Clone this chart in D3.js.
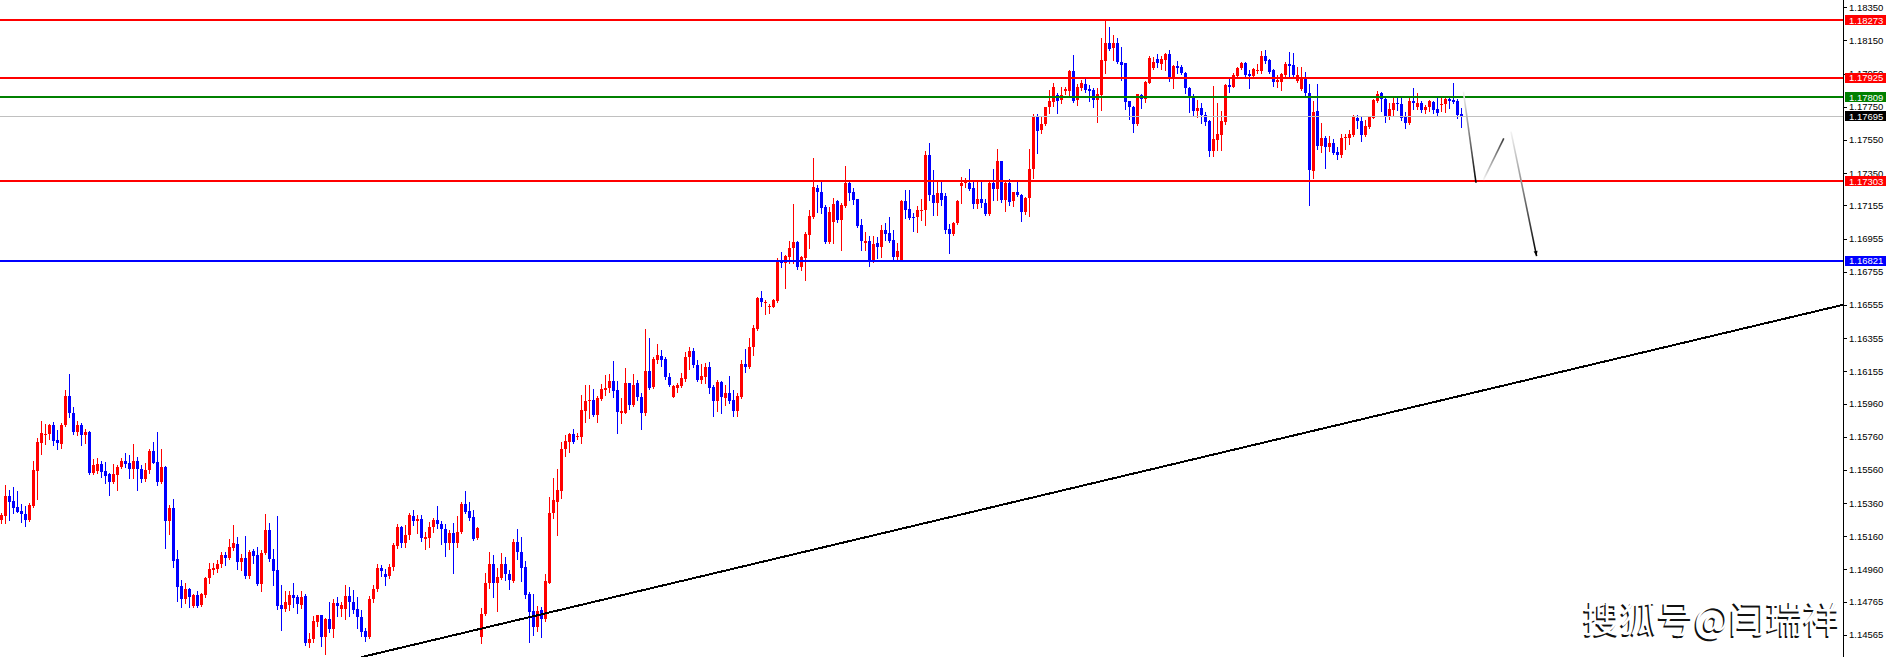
<!DOCTYPE html>
<html><head><meta charset="utf-8">
<script src="https://cdn.jsdelivr.net/npm/d3@7"></script>
<style>html,body{margin:0;padding:0;background:#fff;overflow:hidden}</style>
</head><body>
<svg id="chart" width="1889" height="657"></svg>
<script>
// ---------------- DATA ----------------
const opens = [
1.15259,1.15285,1.15406,1.15373,1.15335,1.15313,1.15295,1.15259,1.15345,1.15556,
1.15725,1.15771,1.15776,1.15832,1.15741,1.15719,1.15832,1.16007,1.15906,1.15790,
1.15832,1.15771,1.15792,1.15544,1.15554,1.15597,1.15554,1.15536,1.15488,1.15530,
1.15577,1.15615,1.15601,1.15564,1.15615,1.15566,1.15508,1.15560,1.15677,1.15607,
1.15490,1.15577,1.15255,1.15331,1.15022,1.14861,1.14785,1.14841,1.14740,1.14807,
1.14746,1.14807,1.14911,1.14957,1.14963,1.14992,1.15048,1.15032,1.15092,1.15114,
1.15008,1.15028,1.14921,1.15072,1.15048,1.14871,1.15062,1.15199,1.15024,1.14957,
1.14746,1.14722,1.14746,1.14807,1.14797,1.14746,1.14801,1.14519,1.14541,1.14646,
1.14684,1.14555,1.14662,1.14602,1.14756,1.14722,1.14722,1.14801,1.14766,1.14722,
1.14676,1.14590,1.14555,1.14783,1.14841,1.14967,1.14933,1.14921,1.14974,1.15102,
1.15219,1.15122,1.15168,1.15285,1.15255,1.15263,1.15142,1.15152,1.15215,1.15259,
1.15235,1.15203,1.15122,1.15179,1.15122,1.15185,1.15355,1.15313,1.15275,1.15148,
1.14555,1.14690,1.14877,1.14991,1.14881,1.14911,1.14991,1.14933,1.14893,1.15128,
1.15067,1.14977,1.14812,1.14710,1.14615,1.14716,1.14661,1.14881,1.15299,1.15369,
1.15433,1.15685,1.15731,1.15775,1.15757,1.15761,1.15916,1.15976,1.15982,1.15892,
1.15988,1.16042,1.16052,1.16099,1.16042,1.15902,1.15906,1.16087,1.15952,1.16083,
1.15998,1.15902,1.16159,1.16058,1.16223,1.16247,1.16229,1.16119,1.16002,1.16056,
1.16066,1.16109,1.16239,1.16280,1.16193,1.16103,1.16123,1.16179,1.16058,1.15978,
1.16093,1.15996,1.16022,1.15982,1.15918,1.16002,1.16199,1.16183,1.16300,1.16410,
1.16599,1.16565,1.16545,1.16545,1.16579,1.16820,1.16806,1.16846,1.16897,1.16937,
1.16786,1.16836,1.16977,1.17088,1.17258,1.17238,1.17144,1.16933,1.17057,1.17182,
1.17067,1.17152,1.17289,1.17238,1.17194,1.17037,1.16931,1.16943,1.16822,1.16927,
1.16906,1.17007,1.16987,1.16947,1.16846,1.16826,1.17182,1.17132,1.17087,1.17084,
1.17124,1.17128,1.17459,1.17218,1.17170,1.17230,1.17212,1.17011,1.16981,1.17047,
1.17274,1.17289,1.17289,1.17258,1.17164,1.17192,1.17168,1.17104,1.17293,1.17252,
1.17423,1.17188,1.17293,1.17184,1.17234,1.17218,1.17117,1.17198,1.17373,1.17690,
1.17610,1.17646,1.17747,1.17781,1.17821,1.17791,1.17847,1.17847,1.17968,1.17791,
1.17865,1.17888,1.17855,1.17851,1.17791,1.17821,1.18028,1.18133,1.18103,1.18133,
1.18022,1.18012,1.17787,1.17751,1.17644,1.17821,1.17795,1.17896,1.17986,1.18036,
1.18008,1.18032,1.18068,1.17922,1.17996,1.17992,1.17952,1.17861,1.17805,1.17725,
1.17745,1.17701,1.17664,1.17486,1.17550,1.17580,1.17660,1.17881,1.17871,1.17936,
1.17982,1.18016,1.17948,1.17936,1.17966,1.17966,1.18056,1.18032,1.17972,1.17902,
1.17902,1.17942,1.18008,1.18002,1.17906,1.17855,1.17918,1.17835,1.17365,1.17725,
1.17516,1.17564,1.17510,1.17530,1.17479,1.17459,1.17564,1.17560,1.17580,1.17685,
1.17664,1.17580,1.17630,1.17685,1.17787,1.17831,1.17797,1.17687,1.17731,1.17775,
1.17765,1.17687,1.17650,1.17785,1.17747,1.17771,1.17731,1.17747,1.17781,1.17735,
1.17759,1.17765,1.17797,1.17791,1.17785,1.17707];
const highs = [
1.15303,1.15470,1.15440,1.15460,1.15434,1.15355,1.15343,1.15359,1.15615,1.15751,
1.15856,1.15838,1.15838,1.15852,1.15802,1.15842,1.16043,1.16139,1.15938,1.15856,
1.15846,1.15806,1.15796,1.15625,1.15633,1.15613,1.15607,1.15540,1.15597,1.15591,
1.15631,1.15661,1.15651,1.15717,1.15637,1.15591,1.15601,1.15685,1.15731,1.15790,
1.15685,1.15585,1.15349,1.15386,1.15078,1.14897,1.14877,1.14847,1.14811,1.14833,
1.14817,1.14917,1.14998,1.14998,1.15018,1.15068,1.15068,1.15142,1.15229,1.15158,
1.15052,1.15162,1.15078,1.15084,1.15094,1.15080,1.15295,1.15239,1.15084,1.15283,
1.14867,1.14831,1.14831,1.14877,1.14807,1.14831,1.14813,1.14576,1.14682,1.14684,
1.14684,1.14670,1.14762,1.14785,1.14797,1.14762,1.14867,1.14853,1.14837,1.14797,
1.14716,1.14606,1.14801,1.14867,1.14994,1.14988,1.14963,1.14994,1.15122,1.15235,
1.15225,1.15229,1.15299,1.15319,1.15289,1.15289,1.15189,1.15249,1.15269,1.15343,
1.15255,1.15235,1.15199,1.15239,1.15283,1.15365,1.15434,1.15365,1.15319,1.15219,
1.14726,1.14937,1.15063,1.15047,1.14967,1.15057,1.15033,1.14957,1.15142,1.15204,
1.15154,1.15011,1.14826,1.14812,1.14740,1.14736,1.14933,1.15399,1.15510,1.15566,
1.15731,1.15771,1.15781,1.15807,1.15781,1.16012,1.16072,1.16072,1.16048,1.16008,
1.16076,1.16131,1.16139,1.16217,1.16099,1.15992,1.16173,1.16087,1.16139,1.16103,
1.16022,1.16410,1.16358,1.16243,1.16320,1.16284,1.16243,1.16147,1.16072,1.16087,
1.16143,1.16273,1.16300,1.16294,1.16223,1.16197,1.16203,1.16213,1.16072,1.16103,
1.16097,1.16072,1.16127,1.16042,1.16022,1.16223,1.16290,1.16354,1.16434,1.16605,
1.16639,1.16585,1.16559,1.16591,1.16836,1.16876,1.16856,1.16943,1.17164,1.16943,
1.16850,1.16997,1.17128,1.17441,1.17278,1.17299,1.17158,1.17148,1.17198,1.17188,
1.17168,1.17393,1.17299,1.17258,1.17194,1.17073,1.16997,1.16971,1.16971,1.16967,
1.17037,1.17047,1.17087,1.17007,1.16931,1.17186,1.17248,1.17248,1.17108,1.17152,
1.17194,1.17486,1.17530,1.17369,1.17297,1.17309,1.17232,1.17043,1.17057,1.17188,
1.17329,1.17319,1.17373,1.17299,1.17299,1.17299,1.17192,1.17299,1.17375,1.17496,
1.17423,1.17299,1.17313,1.17238,1.17298,1.17222,1.17204,1.17494,1.17707,1.17705,
1.17696,1.17751,1.17851,1.17891,1.17831,1.17867,1.17867,1.17972,1.18062,1.17888,
1.17912,1.17918,1.17881,1.17865,1.17865,1.18167,1.18275,1.18229,1.18183,1.18163,
1.18113,1.18012,1.17787,1.17755,1.17827,1.17827,1.17906,1.18056,1.18048,1.18068,
1.18056,1.18072,1.18093,1.18002,1.18026,1.18002,1.17962,1.17871,1.17825,1.17791,
1.17771,1.17721,1.17670,1.17875,1.17771,1.17727,1.17888,1.17918,1.17952,1.17992,
1.18022,1.18022,1.17972,1.17986,1.18008,1.18087,1.18093,1.18036,1.17976,1.17942,
1.17956,1.18022,1.18082,1.18072,1.17988,1.17992,1.17962,1.17888,1.17787,1.17888,
1.17650,1.17574,1.17574,1.17556,1.17510,1.17584,1.17584,1.17610,1.17701,1.17701,
1.17696,1.17670,1.17696,1.17797,1.17845,1.17841,1.17801,1.17771,1.17805,1.17801,
1.17801,1.17717,1.17801,1.17861,1.17831,1.17787,1.17761,1.17791,1.17787,1.17801,
1.17801,1.17801,1.17807,1.17891,1.17797,1.17741];
const lows = [
1.15239,1.15243,1.15259,1.15299,1.15305,1.15249,1.15225,1.15255,1.15339,1.15386,
1.15659,1.15715,1.15745,1.15711,1.15685,1.15695,1.15826,1.15882,1.15780,1.15771,
1.15711,1.15725,1.15536,1.15534,1.15544,1.15520,1.15480,1.15410,1.15484,1.15440,
1.15570,1.15581,1.15510,1.15510,1.15440,1.15490,1.15494,1.15544,1.15601,1.15468,
1.15484,1.15092,1.15177,1.14978,1.14773,1.14736,1.14760,1.14736,1.14736,1.14736,
1.14740,1.14797,1.14881,1.14933,1.14947,1.14978,1.14988,1.15024,1.15078,1.14963,
1.14957,1.14907,1.14911,1.14998,1.14867,1.14833,1.15054,1.15010,1.14867,1.14722,
1.14596,1.14710,1.14716,1.14736,1.14698,1.14730,1.14505,1.14495,1.14525,1.14620,
1.14501,1.14453,1.14586,1.14555,1.14682,1.14682,1.14660,1.14682,1.14696,1.14610,
1.14561,1.14531,1.14545,1.14762,1.14833,1.14923,1.14867,1.14907,1.14957,1.15092,
1.15098,1.15098,1.15142,1.15229,1.15179,1.15134,1.15084,1.15098,1.15185,1.15209,
1.15112,1.15044,1.15082,1.14941,1.15098,1.15179,1.15303,1.15259,1.15138,1.15142,
1.14515,1.14686,1.14850,1.14796,1.14712,1.14901,1.14897,1.14840,1.14887,1.15023,
1.14893,1.14790,1.14525,1.14565,1.14589,1.14555,1.14649,1.14877,1.15272,1.15168,
1.15393,1.15646,1.15670,1.15721,1.15745,1.15725,1.15851,1.15871,1.15886,1.15847,
1.15982,1.16012,1.16028,1.16002,1.15785,1.15845,1.15902,1.15928,1.15946,1.15982,
1.15807,1.15892,1.16046,1.16052,1.16203,1.16187,1.16109,1.16066,1.15998,1.16028,
1.16058,1.16097,1.16167,1.16183,1.16097,1.16083,1.16083,1.16022,1.15888,1.15918,
1.15906,1.15952,1.15962,1.15888,1.15888,1.15996,1.16153,1.16177,1.16253,1.16404,
1.16551,1.16501,1.16505,1.16541,1.16573,1.16786,1.16657,1.16806,1.16806,1.16770,
1.16766,1.16706,1.16897,1.17077,1.17118,1.17108,1.16927,1.16927,1.16931,1.17057,
1.16887,1.17148,1.17188,1.17164,1.17023,1.16887,1.16887,1.16790,1.16817,1.16836,
1.16846,1.16947,1.16936,1.16832,1.16832,1.16822,1.17081,1.17073,1.17003,1.16997,
1.17067,1.17037,1.17188,1.17098,1.17098,1.17158,1.16990,1.16866,1.16977,1.17043,
1.17172,1.17268,1.17248,1.17142,1.17138,1.17144,1.17098,1.17098,1.17188,1.17188,
1.17178,1.17124,1.17158,1.17152,1.17212,1.17063,1.17104,1.17092,1.17323,1.17473,
1.17594,1.17640,1.17711,1.17755,1.17711,1.17775,1.17825,1.17821,1.17781,1.17761,
1.17851,1.17841,1.17787,1.17747,1.17660,1.17731,1.17952,1.18093,1.18032,1.18012,
1.17912,1.17737,1.17674,1.17600,1.17640,1.17741,1.17781,1.17891,1.17978,1.17992,
1.17976,1.17972,1.17908,1.17865,1.17952,1.17948,1.17831,1.17721,1.17695,1.17687,
1.17654,1.17640,1.17455,1.17455,1.17490,1.17490,1.17646,1.17841,1.17867,1.17932,
1.17976,1.17938,1.17865,1.17928,1.17956,1.17956,1.18012,1.17956,1.17875,1.17871,
1.17851,1.17936,1.17932,1.17932,1.17902,1.17851,1.17815,1.17158,1.17323,1.17496,
1.17479,1.17383,1.17484,1.17465,1.17433,1.17449,1.17496,1.17524,1.17576,1.17620,
1.17546,1.17576,1.17624,1.17680,1.17781,1.17727,1.17660,1.17674,1.17701,1.17731,
1.17670,1.17624,1.17644,1.17737,1.17737,1.17721,1.17711,1.17725,1.17715,1.17701,
1.17725,1.17721,1.17741,1.17771,1.17685,1.17630];
const closes = [
1.15289,1.15406,1.15365,1.15333,1.15309,1.15293,1.15259,1.15349,1.15560,1.15729,
1.15782,1.15778,1.15832,1.15735,1.15721,1.15832,1.16007,1.15902,1.15792,1.15832,
1.15771,1.15792,1.15540,1.15591,1.15597,1.15550,1.15524,1.15490,1.15536,1.15581,
1.15615,1.15599,1.15564,1.15615,1.15564,1.15508,1.15560,1.15677,1.15605,1.15490,
1.15577,1.15255,1.15331,1.15014,1.14857,1.14785,1.14841,1.14793,1.14805,1.14740,
1.14813,1.14911,1.14963,1.14967,1.14992,1.15048,1.15032,1.15094,1.15118,1.15008,
1.15028,1.14921,1.15068,1.15044,1.14871,1.15062,1.15199,1.15022,1.14953,1.14740,
1.14722,1.14766,1.14807,1.14791,1.14750,1.14797,1.14515,1.14541,1.14650,1.14684,
1.14555,1.14662,1.14602,1.14756,1.14740,1.14744,1.14801,1.14766,1.14714,1.14676,
1.14586,1.14555,1.14783,1.14843,1.14967,1.14953,1.14917,1.14974,1.15108,1.15219,
1.15122,1.15168,1.15289,1.15255,1.15263,1.15148,1.15154,1.15219,1.15259,1.15235,
1.15203,1.15118,1.15179,1.15122,1.15185,1.15355,1.15309,1.15273,1.15144,1.15209,
1.14692,1.14877,1.14991,1.14881,1.14917,1.14991,1.14931,1.14897,1.15128,1.15067,
1.14971,1.14806,1.14706,1.14615,1.14712,1.14661,1.14891,1.15303,1.15379,1.15439,
1.15687,1.15735,1.15777,1.15731,1.15765,1.15922,1.15978,1.15982,1.15892,1.15996,
1.16048,1.16056,1.16099,1.16038,1.15912,1.15916,1.16087,1.15952,1.16072,1.16002,
1.15906,1.16159,1.16056,1.16229,1.16253,1.16223,1.16119,1.16072,1.16066,1.16072,
1.16113,1.16239,1.16280,1.16193,1.16103,1.16127,1.16179,1.16056,1.15978,1.16093,
1.15998,1.16022,1.15978,1.15918,1.16008,1.16199,1.16183,1.16300,1.16414,1.16599,
1.16571,1.16575,1.16551,1.16585,1.16820,1.16810,1.16850,1.16901,1.16937,1.16786,
1.16846,1.16983,1.17094,1.17264,1.17238,1.17138,1.16933,1.17118,1.17164,1.17067,
1.17158,1.17289,1.17232,1.17188,1.17031,1.16943,1.16943,1.16822,1.16923,1.16906,
1.17007,1.16983,1.16943,1.16846,1.16880,1.17182,1.17128,1.17081,1.17084,1.17128,
1.17128,1.17459,1.17218,1.17170,1.17230,1.17188,1.17007,1.16981,1.17047,1.17184,
1.17293,1.17309,1.17254,1.17164,1.17192,1.17168,1.17104,1.17293,1.17252,1.17423,
1.17188,1.17289,1.17178,1.17234,1.17218,1.17117,1.17198,1.17373,1.17690,1.17606,
1.17646,1.17747,1.17787,1.17867,1.17785,1.17821,1.17855,1.17968,1.17787,1.17871,
1.17891,1.17851,1.17847,1.17791,1.17825,1.18032,1.18133,1.18099,1.18133,1.18022,
1.18002,1.17781,1.17747,1.17644,1.17827,1.17795,1.17902,1.18042,1.18022,1.18016,
1.18036,1.18068,1.17922,1.17996,1.17986,1.17952,1.17861,1.17801,1.17727,1.17745,
1.17701,1.17660,1.17484,1.17554,1.17586,1.17666,1.17881,1.17871,1.17942,1.17986,
1.18016,1.17942,1.17936,1.17976,1.17972,1.18056,1.18026,1.17962,1.17902,1.17912,
1.17948,1.18008,1.17998,1.17942,1.17942,1.17918,1.17835,1.17369,1.17717,1.17516,
1.17564,1.17510,1.17534,1.17473,1.17459,1.17564,1.17568,1.17584,1.17687,1.17664,
1.17580,1.17636,1.17690,1.17791,1.17825,1.17795,1.17687,1.17735,1.17775,1.17765,
1.17680,1.17650,1.17785,1.17771,1.17771,1.17731,1.17751,1.17785,1.17731,1.17711,
1.17765,1.17797,1.17787,1.17781,1.17701,1.17695];

const tickLabels = ["1.18350","1.18150","1.17950","1.17750","1.17550","1.17350","1.17155","1.16955",
  "1.16755","1.16555","1.16355","1.16155","1.15960","1.15760","1.15560","1.15360","1.15160",
  "1.14960","1.14765","1.14565"];
const resistanceLevels = [1.18273, 1.17925, 1.17303];
const pivotLevel = 1.17809;
const supportLevel = 1.16821;
const bidPrice = 1.17695;
// trend line: [bar index, price]
const trendStart = [90, 1.14431];
const trendEnd = [460.5, 1.16556];
// projected path: [bar index, price] per segment
const pathSeg1 = [[365.6, 1.17841], [368.75, 1.17292]];
const pathSeg2 = [[370.6, 1.17309], [375.7, 1.17560]];
const pathSeg3 = [[377.5, 1.17600], [383.9, 1.16850]];
const watermark = "搜狐号@闫瑞祥";

// ---------------- DRAWING ----------------
const W = 1889, H = 657, axisX = 1843;
const svg = d3.select("#chart");
const x = d3.scaleLinear().domain([0, 1]).range([1, 5]);          // bar index -> px (4 px per bar)
const y = d3.scaleLinear().domain([1.18350, 1.14565]).range([7.3, 635]);

const defs = svg.append("defs");
defs.append("clipPath").attr("id", "plotClip")
  .append("rect").attr("x", 0).attr("y", 0).attr("width", axisX).attr("height", H);

svg.append("rect").attr("width", W).attr("height", H).attr("fill", "#fff");

const plot = svg.append("g").attr("clip-path", "url(#plotClip)");

const candles = opens.map((o, i) => ({ i, o, h: highs[i], l: lows[i], c: closes[i] }));
const colorOf = d => d.c >= d.o ? "#FF0000" : "#0000FF";

const cg = plot.append("g").attr("shape-rendering", "crispEdges");
cg.selectAll("rect.wick").data(candles).join("rect").attr("class", "wick")
  .attr("x", d => Math.round(x(d.i)))
  .attr("width", 1)
  .attr("y", d => Math.round(y(d.h)))
  .attr("height", d => Math.max(1, Math.round(y(d.l)) - Math.round(y(d.h)) + 1))
  .attr("fill", colorOf);
cg.selectAll("rect.body").data(candles).join("rect").attr("class", "body")
  .attr("x", d => Math.round(x(d.i)) - 1)
  .attr("width", 3)
  .attr("y", d => Math.round(y(Math.max(d.o, d.c))))
  .attr("height", d => Math.max(1, Math.round(y(Math.min(d.o, d.c))) - Math.round(y(Math.max(d.o, d.c)))))
  .attr("fill", colorOf);

// horizontal levels
const lg = plot.append("g").attr("shape-rendering", "crispEdges");
lg.append("rect").attr("x", 0).attr("width", axisX).attr("y", Math.round(y(bidPrice))).attr("height", 1).attr("fill", "#C0C0C0");
const levelList = resistanceLevels.map(p => ({ p, c: "#FF0000" }))
  .concat([{ p: pivotLevel, c: "#008000" }, { p: supportLevel, c: "#0000FF" }]);
lg.selectAll("rect.lvl").data(levelList).join("rect").attr("class", "lvl")
  .attr("x", 0).attr("width", axisX)
  .attr("y", d => Math.round(y(d.p)) - 1).attr("height", 2)
  .attr("fill", d => d.c);

// trend line
plot.append("line")
  .attr("x1", x(trendStart[0])).attr("y1", y(trendStart[1]))
  .attr("x2", x(trendEnd[0])).attr("y2", y(trendEnd[1]))
  .attr("stroke", "#000").attr("stroke-width", 2).attr("shape-rendering", "crispEdges");

// projected path with fading gradient
[pathSeg1, pathSeg2, pathSeg3].forEach((s, k) => {
  const [a, b] = s;
  const x1 = x(a[0]), y1 = y(a[1]), x2 = x(b[0]), y2 = y(b[1]);
  const gid = "pg" + k;
  const gr = defs.append("linearGradient").attr("id", gid).attr("gradientUnits", "userSpaceOnUse")
    .attr("x1", x1).attr("y1", y1).attr("x2", x2).attr("y2", y2);
  gr.append("stop").attr("offset", 0).attr("stop-color", "#f4f4f4");
  gr.append("stop").attr("offset", 1).attr("stop-color", k === 1 ? "#3a3a3a" : "#000");
  plot.append("line").attr("x1", x1).attr("y1", y1).attr("x2", x2).attr("y2", y2)
    .attr("stroke", `url(#${gid})`).attr("stroke-width", 1.6);
  if (k === 2) {
    const ang = Math.atan2(y2 - y1, x2 - x1);
    const L = 5, Wd = 2;
    const bx = x2 - L * Math.cos(ang), by = y2 - L * Math.sin(ang);
    const px = -Math.sin(ang) * Wd, py = Math.cos(ang) * Wd;
    plot.append("path")
      .attr("d", `M${x2},${y2}L${bx + px},${by + py}L${bx - px},${by - py}Z`)
      .attr("fill", "#000");
  }
});

// right axis
const ax = svg.append("g");
ax.append("rect").attr("x", axisX).attr("y", 0).attr("width", 1).attr("height", H).attr("fill", "#000")
  .attr("shape-rendering", "crispEdges");
const ticks = tickLabels.map(t => ({ t, v: +t }));
ax.selectAll("rect.tk").data(ticks).join("rect").attr("class", "tk")
  .attr("x", axisX + 1).attr("width", 3)
  .attr("y", d => Math.round(y(d.v))).attr("height", 1).attr("fill", "#000")
  .attr("shape-rendering", "crispEdges");
ax.selectAll("text.tl").data(ticks).join("text").attr("class", "tl")
  .attr("x", axisX + 6).attr("y", d => y(d.v) + 3.4)
  .attr("font-family", "'Liberation Sans', Arial, sans-serif").attr("font-size", "9.5px")
  .attr("fill", "#000").text(d => d.t);

// price tags
const tags = resistanceLevels.map(p => ({ p, c: "#FF0000" }))
  .concat([{ p: pivotLevel, c: "#008000" }, { p: supportLevel, c: "#0000FF" }, { p: bidPrice, c: "#000000" }]);
const tg = ax.selectAll("g.tag").data(tags).join("g").attr("class", "tag");
tg.append("rect").attr("x", axisX + 2).attr("width", 41)
  .attr("y", d => Math.round(y(d.p)) - 5).attr("height", 10).attr("fill", d => d.c)
  .attr("shape-rendering", "crispEdges");
tg.append("text").attr("x", axisX + 6).attr("y", d => y(d.p) + 3.6)
  .attr("font-family", "'Liberation Sans', Arial, sans-serif").attr("font-size", "9.5px")
  .attr("fill", "#fff").text(d => d.p.toFixed(5));

// watermark
const wm = svg.append("g").attr("font-family", "'Noto Sans CJK SC', sans-serif").attr("font-size", "37px");
wm.append("text").attr("x", 1581.5).attr("y", 634.5).attr("fill", "#111").text(watermark);
wm.append("text").attr("x", 1583).attr("y", 633).attr("fill", "#fff").text(watermark);
</script>
</body></html>
